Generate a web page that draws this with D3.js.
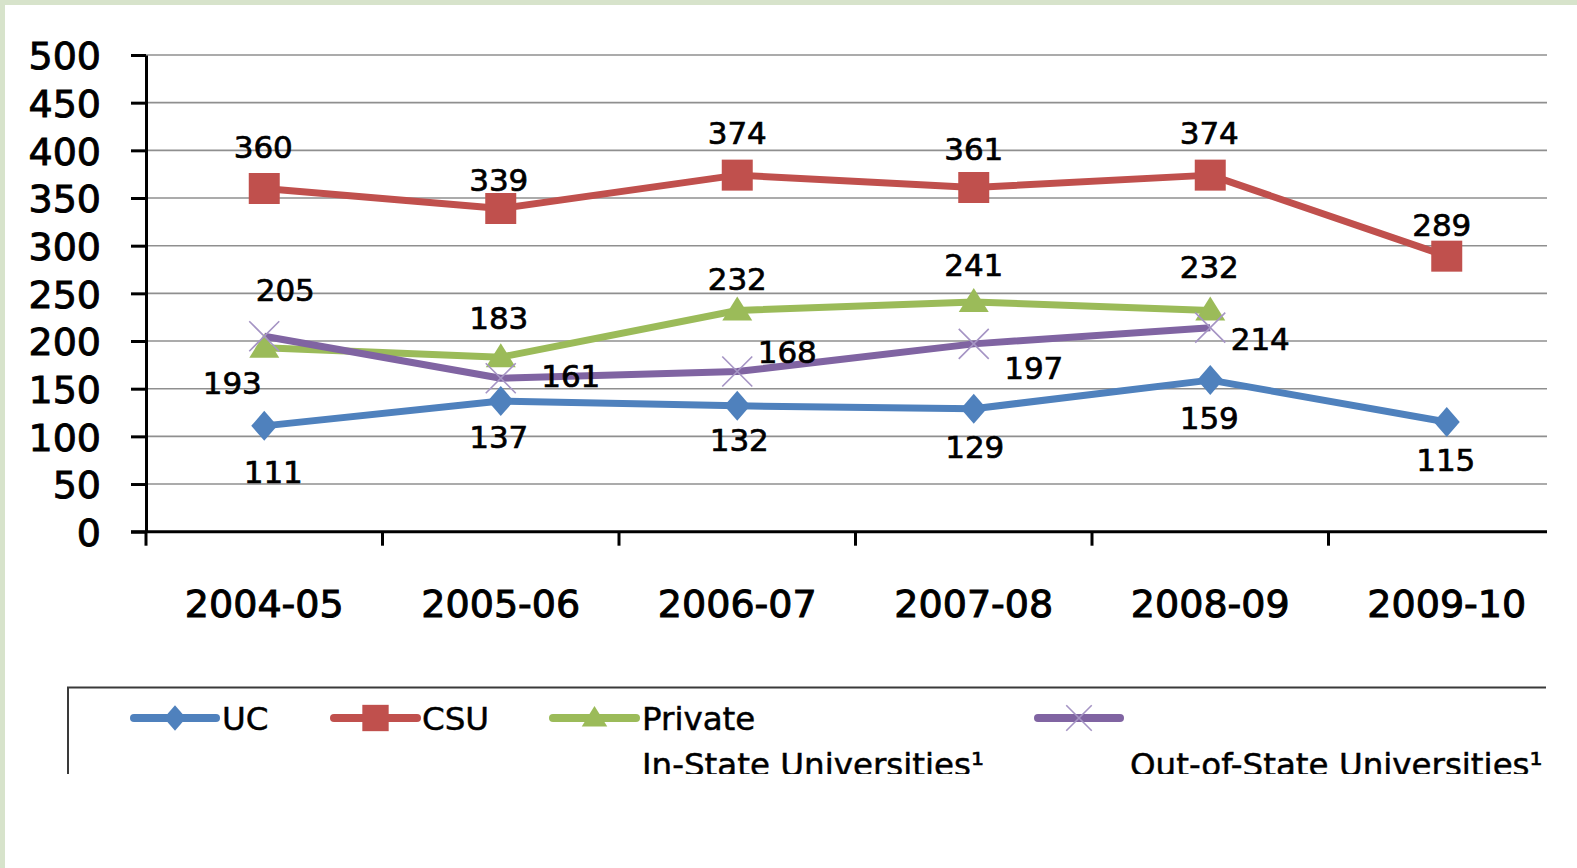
<html>
<head>
<script src="https://cdnjs.cloudflare.com/ajax/libs/d3/7.8.5/d3.min.js"></script>
<style>
  body { margin: 0; background: #fff; }
  text { font-family: "DejaVu Sans", sans-serif; fill: #000; }
</style>
</head>
<body>
<svg id="chart" width="1577" height="868"></svg>
<script>
// data
var categories = ["2004-05", "2005-06", "2006-07", "2007-08", "2008-09", "2009-10"];
var ucValues = [111, 137, 132, 129, 159, 115];
var csuValues = [360, 339, 374, 361, 374, 289];
var privateValues = [193, 183, 232, 241, 232, null];
var outStateValues = [205, 161, 168, 197, 214, null];
var yTicks = [0, 50, 100, 150, 200, 250, 300, 350, 400, 450, 500];

// label nudges (dx, dy from the point), the original has them hand placed
var ucLabelPos = [[9, 46], [-2, 36], [2, 34], [1, 38], [-1, 38], [-1, 38]];
var csuLabelPos = [[-1, -42], [-2, -29], [0, -42], [0, -39], [-1, -42], [-5, -31]];
var privateLabelPos = [[-32, 35], [-2, -39], [0, -32], [0, -37], [-1, -44]];
var outLabelPos = [[21, -46], [70, -2], [50, -20], [60, 24], [50, 11]];

var series = [
  {name: "UC", values: ucValues, color: "#4f81bd", marker: "diamond", labels: ucLabelPos},
  {name: "CSU", values: csuValues, color: "#c0504d", marker: "square", labels: csuLabelPos},
  {name: "Private", values: privateValues, color: "#9bbb59", marker: "triangle", labels: privateLabelPos},
  {name: "Out", values: outStateValues, color: "#8064a2", marker: "cross", labels: outLabelPos}
];

var svg = d3.select("#chart");

// page frame
svg.append("rect").attr("x", 0).attr("y", 0).attr("width", 1577).attr("height", 5).attr("fill", "#d7e3cb");
svg.append("rect").attr("x", 0).attr("y", 0).attr("width", 5).attr("height", 868).attr("fill", "#d7e3cb");

var plotLeft = 146, plotRight = 1547, plotTop = 55, plotBottom = 531.7;

var x = d3.scaleBand().domain(categories).range([plotLeft, 1565]);
var y = d3.scaleLinear().domain([0, 500]).range([plotBottom, plotTop]);
var cx = function(i) { return x(categories[i]) + x.bandwidth() / 2; };

// gridlines
svg.append("g").selectAll("line")
  .data(yTicks.filter(function(d) { return d > 0; }))
  .enter().append("line")
  .attr("x1", plotLeft).attr("x2", plotRight)
  .attr("y1", function(d) { return y(d); }).attr("y2", function(d) { return y(d); })
  .attr("stroke", "#8f8f8f").attr("stroke-width", 1.6);

// y axis
var yAxis = svg.append("g")
  .attr("transform", "translate(" + plotLeft + ",0)")
  .call(d3.axisLeft(y).tickValues(yTicks).tickSize(15).tickSizeOuter(0).tickPadding(30));
yAxis.select(".domain").attr("stroke", "#000").attr("stroke-width", 3);
yAxis.selectAll(".tick line").attr("stroke", "#000").attr("stroke-width", 3);
yAxis.selectAll(".tick text")
  .style("font-family", "DejaVu Sans").style("font-size", "38px")
  .attr("fill", "#000").attr("stroke", "#000").attr("stroke-width", 0.9)
  .attr("dy", "0.36em");

// x axis
svg.append("line").attr("x1", plotLeft - 15).attr("x2", plotRight)
  .attr("y1", plotBottom).attr("y2", plotBottom)
  .attr("stroke", "#000").attr("stroke-width", 3);
svg.append("g").selectAll("line")
  .data(categories)
  .enter().append("line")
  .attr("x1", function(d) { return x(d); }).attr("x2", function(d) { return x(d); })
  .attr("y1", plotBottom).attr("y2", plotBottom + 14)
  .attr("stroke", "#000").attr("stroke-width", 3);
var xAxis = svg.append("g")
  .attr("transform", "translate(0," + plotBottom + ")")
  .call(d3.axisBottom(x).tickSize(0).tickPadding(0));
xAxis.select(".domain").remove();
xAxis.selectAll(".tick text")
  .style("font-family", "DejaVu Sans").style("font-size", "38px")
  .attr("fill", "#000").attr("stroke", "#000").attr("stroke-width", 1)
  .attr("dy", null).attr("y", 85);

// markers
function markerPath(type, s) {
  var p = d3.path();
  if (type === "diamond") {
    p.moveTo(0, -15 * s); p.lineTo(13 * s, 0); p.lineTo(0, 15 * s); p.lineTo(-13 * s, 0); p.closePath();
  } else if (type === "square") {
    p.rect(-15.5 * s, -15.5 * s, 31 * s, 31 * s);
  } else if (type === "triangle") {
    p.moveTo(0, -14 * s); p.lineTo(15 * s, 10 * s); p.lineTo(-15 * s, 10 * s); p.closePath();
  } else {
    p.moveTo(-15 * s, -15 * s); p.lineTo(15 * s, 15 * s);
    p.moveTo(15 * s, -15 * s); p.lineTo(-15 * s, 15 * s);
  }
  return p.toString();
}
function drawMarker(g, s, d, tx, ty) {
  var m = g.append("path").attr("d", markerPath(s.marker, d))
    .attr("transform", "translate(" + tx + "," + ty + ")");
  if (s.marker === "cross") {
    m.attr("fill", "none").attr("stroke", "#a594c4").attr("stroke-width", 1.6);
  } else {
    m.attr("fill", s.color);
  }
}

var line = d3.line()
  .defined(function(d) { return d != null; })
  .x(function(d, i) { return cx(i); })
  .y(function(d) { return y(d); });

var plot = svg.append("g");
series.forEach(function(s) {
  plot.append("path").datum(s.values)
    .attr("d", line)
    .attr("fill", "none").attr("stroke", s.color)
    .attr("stroke-width", 7).attr("stroke-linejoin", "round");
});
series.forEach(function(s) {
  s.values.forEach(function(v, i) {
    if (v == null) return;
    drawMarker(plot, s, 1, cx(i), y(v));
  });
});

// data labels
series.forEach(function(s) {
  s.values.forEach(function(v, i) {
    if (v == null) return;
    var off = s.labels[i];
    plot.append("text")
      .attr("x", cx(i) + off[0]).attr("y", y(v) + off[1])
      .attr("text-anchor", "middle").attr("dy", "0.36em")
      .style("font-size", "31px")
      .attr("stroke", "#000").attr("stroke-width", 0.7)
      .text(v);
  });
});

// legend (cut off at the bottom in the original)
svg.append("clipPath").attr("id", "legclip")
  .append("rect").attr("x", 0).attr("y", 0).attr("width", 1577).attr("height", 774);
var legend = svg.append("g").attr("clip-path", "url(#legclip)");
legend.append("path")
  .attr("d", "M68,800 V687.5 H1546")
  .attr("fill", "none").attr("stroke", "#3a3a3a").attr("stroke-width", 2);

var legendItems = [
  {s: series[0], x0: 134, x1: 216, tx: 222, lines: ["UC"]},
  {s: series[1], x0: 334, x1: 417, tx: 422, lines: ["CSU"]},
  {s: series[2], x0: 553, x1: 636, tx: 642, lines: ["Private", "In-State Universities\u00b9"]},
  {s: series[3], x0: 1038, x1: 1120, tx: 1130, lines: ["", "Out-of-State Universities\u00b9"]}
];
var legY = 718;
legendItems.forEach(function(it) {
  legend.append("line").attr("x1", it.x0).attr("x2", it.x1)
    .attr("y1", legY).attr("y2", legY)
    .attr("stroke", it.s.color).attr("stroke-width", 8).attr("stroke-linecap", "round");
  drawMarker(legend, it.s, 0.85, (it.x0 + it.x1) / 2, legY);
  it.lines.forEach(function(t, k) {
    if (!t) return;
    legend.append("text")
      .attr("x", it.tx).attr("y", 730 + k * 46)
      .style("font-size", "32.5px")
      .attr("stroke", "#000").attr("stroke-width", 0.5)
      .text(t);
  });
});
</script>
</body>
</html>
